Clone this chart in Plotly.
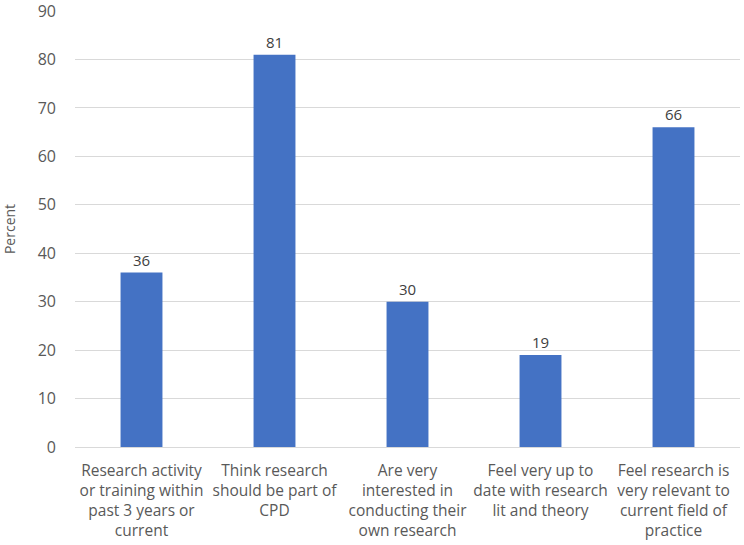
import plotly.graph_objects as go

categories = [
    "Research activity<br>or training within<br>past 3 years or<br>current",
    "Think research<br>should be part of<br>CPD",
    "Are very<br>interested in<br>conducting their<br>own research",
    "Feel very up to<br>date with research<br>lit and theory",
    "Feel research is<br>very relevant to<br>current field of<br>practice",
]
values = [36, 81, 30, 19, 66]
y_ticks = list(range(0, 91, 10))

fig = go.Figure(go.Bar(
    x=categories, y=values,
    marker=dict(color="#4472C4", line=dict(width=0)),
    text=[str(v) for v in values], textposition="outside",
    textfont=dict(size=15, color="#404040", family="Open Sans"),
    cliponaxis=False,
))
fig.update_layout(
    width=744, height=545,
    margin=dict(l=75, r=4, t=11, b=98),
    paper_bgcolor="white", plot_bgcolor="white",
    bargap=0.685,
    showlegend=False,
    font=dict(family="Open Sans", color="#595959", size=15),
    yaxis=dict(range=[0, 90.01], tickvals=y_ticks, showgrid=True, gridcolor="#D9D9D9",
               gridwidth=1, zeroline=False, ticks="", ticklabelstandoff=18,
               ticklabeloverflow="allow", automargin=False,
               title=dict(text="Percent", font=dict(size=14), standoff=20),
               tickfont=dict(size=16)),
    xaxis=dict(showline=True, linecolor="#D9D9D9", ticks="", tickangle=0,
               ticklabelstandoff=9, automargin=False,
               tickfont=dict(size=15.5, color="#595959")),
)
fig.write_html("out.html")
